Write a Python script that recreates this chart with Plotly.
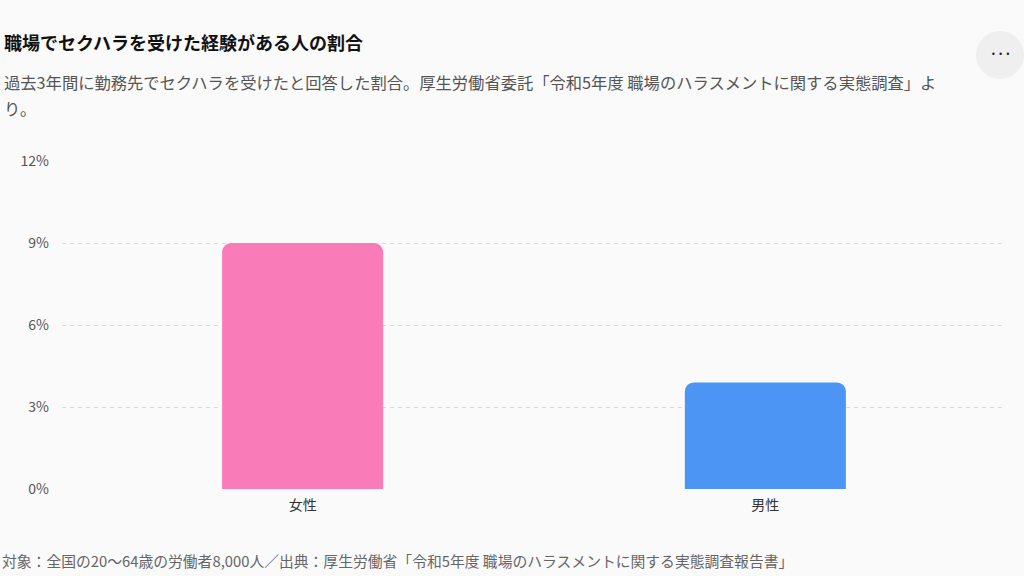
import plotly.graph_objects as go

# データ
categories = ["女性", "男性"]
values = [9.0, 3.9]
bar_colors = ["#F97BB8", "#4D95F5"]
tick_vals = [0, 3, 6, 9, 12]
tick_text = ["0%", "3%", "6%", "9%", "12%"]

title_text = "職場でセクハラを受けた経験がある人の割合"
subtitle_lines = ["過去3年間に勤務先でセクハラを受けたと回答した割合。厚生労働省委託「令和5年度 職場のハラスメントに関する実態調査」よ",
                  "り。"]
footer_text = "対象：全国の20〜64歳の労働者8,000人／出典：厚生労働省「令和5年度 職場のハラスメントに関する実態調査報告書」"

FONT = "Noto Sans CJK JP"
BG = "#FAFAFA"

# プロット領域 (px)
L, R, T, B = 62, 18, 161, 87
PW, PH = 1024 - L - R, 576 - T - B


def px(x):
    return (x - L) / PW


def py(y):
    return (576 - B - y) / PH


fig = go.Figure()
fig.add_trace(go.Bar(
    x=categories,
    y=values,
    width=0.348,
    marker=dict(color=bar_colors, cornerradius=9, line=dict(width=0)),
    hoverinfo="skip",
    showlegend=False,
))

fig.update_layout(
    width=1024, height=576,
    paper_bgcolor=BG, plot_bgcolor=BG,
    margin=dict(l=L, r=R, t=T, b=B),
    font=dict(family=FONT, color="#444"),
    xaxis=dict(
        range=[-0.52, 1.52],
        showgrid=False, zeroline=False, showline=False,
        tickfont=dict(size=14, color="#333"),
        ticks="", ticklabelstandoff=6,
    ),
    yaxis=dict(
        range=[0, 12],
        tickvals=tick_vals, ticktext=tick_text,
        showgrid=True, gridcolor="#DADADA", griddash="4px,4px", gridwidth=1,
        zeroline=False, showline=False,
        tickfont=dict(size=14, color="#555"),
        ticks="", ticklabelstandoff=12,
    ),
)

# タイトル・サブタイトル・出典
fig.add_annotation(text="<b>" + title_text + "</b>", xref="paper", yref="paper",
                   x=px(2), y=py(42), xanchor="left", yanchor="middle",
                   showarrow=False, font=dict(size=18, color="#111", family=FONT))
for i, line in enumerate(subtitle_lines):
    fig.add_annotation(text=line, xref="paper", yref="paper",
                       x=px(2), y=py(82 + 26 * i), xanchor="left", yanchor="middle",
                       align="left", showarrow=False,
                       font=dict(size=16.3, color="#555", family=FONT))
fig.add_annotation(text=footer_text, xref="paper", yref="paper",
                   x=px(0), y=py(560), xanchor="left", yanchor="middle",
                   showarrow=False, font=dict(size=14.8, color="#666", family=FONT))

# 右上のメニューボタン
fig.add_shape(type="circle", xref="paper", yref="paper",
              x0=px(976), x1=px(1024), y0=py(79), y1=py(31),
              fillcolor="#EFEFEF", line=dict(width=0), layer="below")
fig.add_annotation(text="• • •", xref="paper", yref="paper",
                   x=px(1000), y=py(55),
                   xanchor="center", yanchor="middle", showarrow=False,
                   font=dict(size=8, color="#222", family="DejaVu Sans"))

fig.write_html("out.html", config={"displayModeBar": False},
               post_script="document.body.style.margin='0';")
